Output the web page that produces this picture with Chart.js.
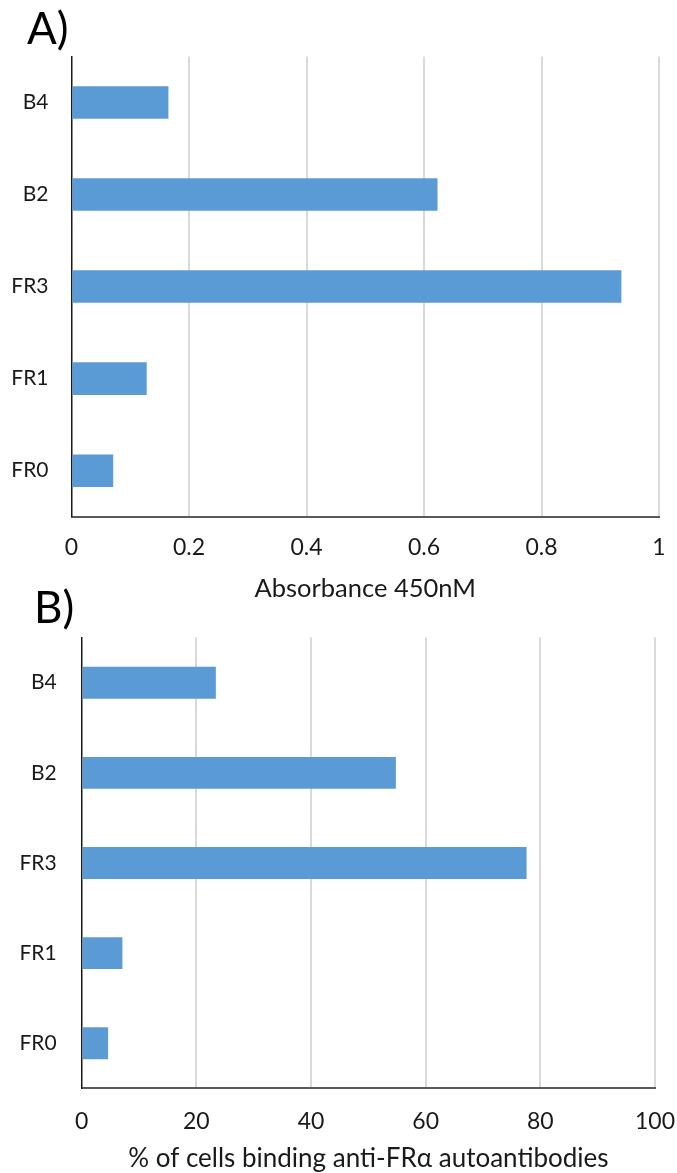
<!DOCTYPE html>
<html>
<head>
<meta charset="utf-8">
<script src="https://cdn.jsdelivr.net/npm/chart.js@4.4.1/dist/chart.umd.min.js"></script>
<style>
  html, body { margin: 0; padding: 0; background: #fff; }
  body { width: 677px; height: 1173px; position: relative; overflow: hidden; font-family: Lato, sans-serif; }
  .panel { position: absolute; left: 0; width: 677px; }
  .tag { position: absolute; font-family: Lato, sans-serif; font-size: 44px; color: #000; line-height: 1; }
</style>
</head>
<body>
<div class="panel" style="top:0;height:610px"><canvas id="chartA" width="677" height="610"></canvas></div>
<div class="panel" style="top:600px;height:580px"><canvas id="chartB" width="677" height="580"></canvas></div>
<div class="tag" style="left:27px;top:5px">A)</div>
<div class="tag" style="left:34px;top:584px">B)</div>
<script>
// sample groups, top to bottom
const groups = ["B4", "B2", "FR3", "FR1", "FR0"];

// panel A: ELISA absorbance
const absorbance = [0.165, 0.623, 0.936, 0.128, 0.071];
const absTicks = [0, 0.2, 0.4, 0.6, 0.8, 1];

// panel B: % of cells binding anti-FRα autoantibodies
const cellBinding = [23.4, 54.8, 77.6, 7.1, 4.6];
const pctTicks = [0, 20, 40, 60, 80, 100];

const barColor = "#5B9BD5";
const textColor = "#1a1a1a";

function renderBarChart(canvasId, values, ticks, axisTitle, box) {
  const ctx = document.getElementById(canvasId).getContext("2d");
  const max = ticks[ticks.length - 1];
  return new Chart(ctx, {
    type: "bar",
    data: {
      labels: groups,
      datasets: [
        {
          data: values,
          backgroundColor: barColor,
          borderWidth: 0,
          categoryPercentage: 1,
          barPercentage: 0.354,
        },
      ],
    },
    options: {
      indexAxis: "y",
      responsive: false,
      animation: false,
      layout: {
        padding: { top: box.top, right: box.right, left: 0, bottom: 0 },
      },
      plugins: {
        legend: { display: false },
        tooltip: { enabled: false },
      },
      scales: {
        x: {
          min: 0,
          max: max,
          afterBuildTicks: (scale) => {
            scale.ticks = ticks.map((v) => ({ value: v }));
          },
          afterFit: (scale) => {
            scale.height = box.xHeight;
            scale.paddingLeft = 0;
            scale.paddingRight = 0;
          },
          grid: {
            color: (c) => (c.index === 0 ? "rgba(0,0,0,0)" : "#d9d9d9"),
            lineWidth: 2,
            drawTicks: false,
          },
          border: { display: true, color: "#595959", width: 2 },
          ticks: {
            color: textColor,
            padding: box.tickPad,
            font: { family: "Lato", size: box.tickSize },
            maxRotation: 0,
            autoSkip: false,
            callback: (v) => String(v),
          },
          title: {
            display: true,
            text: axisTitle,
            color: textColor,
            font: { family: "Lato", size: box.titleSize },
            padding: { top: 0, bottom: box.titlePad },
          },
        },
        y: {
          afterFit: (scale) => {
            scale.width = box.left;
          },
          grid: { display: false, drawTicks: false },
          border: { display: true, color: "#1a1a1a", width: 1.5 },
          ticks: {
            color: textColor,
            padding: box.yPad,
            font: { family: "Lato", size: 21 },
          },
        },
      },
    },
  });
}

renderBarChart("chartA", absorbance, absTicks, "Absorbance 450nM", {
  top: 56.4, right: 18, left: 71.5, xHeight: 93.3,
  tickPad: 17.5, tickSize: 23, titleSize: 25.5, titlePad: 6, yPad: 23,
});

renderBarChart("chartB", cellBinding, pctTicks, "% of cells binding anti-FRα autoantibodies", {
  top: 28.5, right: 22, left: 81.7, xHeight: 91.6,
  tickPad: 19, tickSize: 23, titleSize: 26, titlePad: 6, yPad: 25,
});
</script>
</body>
</html>
